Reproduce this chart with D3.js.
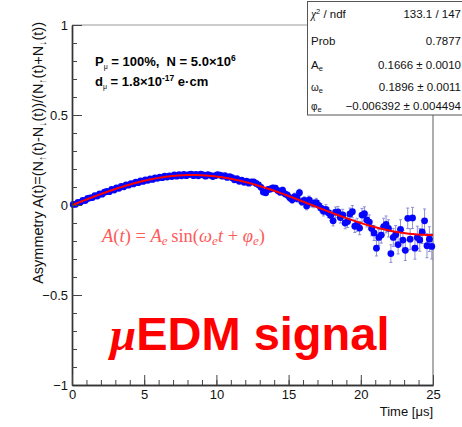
<!DOCTYPE html>
<html>
<head>
<meta charset="utf-8">
<script src="https://cdn.jsdelivr.net/npm/d3@7"></script>
<style>
  body { margin: 0; background: #fff; }
  svg { display: block; font-family: "Liberation Sans", Arial, sans-serif; }
</style>
</head>
<body>
<svg width="462" height="427"></svg>
<script>
// bin centres: 150 bins of 1/6 us from 0 to 25 us
var nBins = 150, binWidth = 25 / 150;

// asymmetry per bin
var asym = [
  0.003, 0.004, 0.014, 0.015, 0.026, 0.025, 0.036, 0.040, 0.041, 0.052,
  0.050, 0.061, 0.060, 0.071, 0.075, 0.074, 0.086, 0.083, 0.095, 0.093,
  0.104, 0.101, 0.112, 0.110, 0.119, 0.117, 0.127, 0.124, 0.134, 0.131,
  0.139, 0.137, 0.145, 0.142, 0.151, 0.148, 0.155, 0.152, 0.160, 0.155,
  0.162, 0.158, 0.167, 0.160, 0.168, 0.162, 0.170, 0.163, 0.169, 0.171,
  0.163, 0.170, 0.162, 0.171, 0.167, 0.160, 0.168, 0.165, 0.158, 0.163,
  0.168, 0.166, 0.160, 0.163, 0.153, 0.158, 0.152, 0.140, 0.146, 0.132,
  0.138, 0.126, 0.133, 0.121, 0.129, 0.128, 0.120, 0.112, 0.098, 0.072,
  0.068, 0.086, 0.089, 0.095, 0.093, 0.080, 0.071, 0.082, 0.062, 0.055,
  0.040, 0.029, 0.047, 0.036, 0.068, 0.018, 0.025, -0.005, 0.028, 0.012,
  0.008, 0.013, -0.002, -0.018, -0.035, -0.024, -0.043, -0.058, -0.088, -0.040,
  -0.038, -0.070, -0.055, -0.100, -0.092, -0.050, -0.037, -0.118, -0.110, -0.128,
  -0.056, -0.048, -0.083, -0.095, -0.130, -0.155, -0.240, -0.180, -0.167, -0.120,
  -0.108, -0.130, -0.270, -0.180, -0.165, -0.220, -0.135, -0.195, -0.252, -0.074,
  -0.190, -0.072, -0.240, -0.180, -0.194, -0.150, -0.088, -0.226, -0.190, -0.230
];

// statistical error per bin
var asymErr = [
  0.003, 0.003, 0.003, 0.003, 0.003, 0.003, 0.003, 0.003, 0.003, 0.003,
  0.003, 0.003, 0.003, 0.004, 0.004, 0.004, 0.004, 0.004, 0.004, 0.004,
  0.004, 0.004, 0.004, 0.004, 0.004, 0.004, 0.004, 0.004, 0.004, 0.004,
  0.005, 0.005, 0.005, 0.005, 0.005, 0.005, 0.005, 0.005, 0.005, 0.005,
  0.005, 0.005, 0.005, 0.006, 0.006, 0.006, 0.006, 0.006, 0.006, 0.006,
  0.006, 0.007, 0.007, 0.007, 0.007, 0.007, 0.007, 0.008, 0.008, 0.008,
  0.008, 0.008, 0.009, 0.009, 0.009, 0.009, 0.010, 0.010, 0.010, 0.010,
  0.011, 0.011, 0.011, 0.012, 0.012, 0.012, 0.013, 0.013, 0.013, 0.014,
  0.014, 0.014, 0.015, 0.015, 0.016, 0.016, 0.016, 0.017, 0.017, 0.018,
  0.018, 0.019, 0.019, 0.020, 0.020, 0.021, 0.021, 0.022, 0.022, 0.023,
  0.023, 0.024, 0.025, 0.025, 0.026, 0.026, 0.027, 0.028, 0.028, 0.029,
  0.030, 0.030, 0.031, 0.032, 0.033, 0.033, 0.034, 0.035, 0.036, 0.037,
  0.037, 0.038, 0.039, 0.040, 0.041, 0.042, 0.043, 0.044, 0.045, 0.046,
  0.047, 0.048, 0.049, 0.050, 0.051, 0.052, 0.053, 0.055, 0.056, 0.057,
  0.058, 0.059, 0.061, 0.062, 0.063, 0.064, 0.066, 0.067, 0.069, 0.070
];

// fit result shown in the stats box
var fitA = 0.1666, fitW = 0.1896, fitPhi = -0.006392;
var statLabels = ["χ2 / ndf", "Prob", "Ae", "ωe", "φe"];
var statValues = ["133.1 / 147", "0.7877", "0.1666 ± 0.0010", "0.1896 ± 0.0011", "−0.006392 ± 0.004494"];

var xTicks = [0, 5, 10, 15, 20, 25];
var yTicks = [-1, -0.5, 0, 0.5, 1];

var svg = d3.select("svg");

var x = d3.scaleLinear().domain([0, 25]).range([72, 433]);
var y = d3.scaleLinear().domain([-1, 1]).range([385, 25]);

var points = asym.map(function(v, i) {
  return {t: (i + 0.5) * binWidth, a: v, e: asymErr[i]};
});

// frame (top and right sides, lighter)
svg.append("path")
    .attr("d", "M" + x(0) + "," + y(1) + "H307")
    .attr("stroke", "#999").attr("stroke-width", 1.2).attr("fill", "none");
svg.append("path")
    .attr("d", "M" + x(25) + ",115V" + y(-1))
    .attr("stroke", "#777").attr("stroke-width", 1.2).attr("fill", "none");

// error bars
var eb = svg.append("g").attr("stroke", "#8585d0").attr("stroke-width", 0.9);
eb.selectAll("line.bar").data(points).enter().append("line")
    .attr("x1", function(d) { return x(d.t); })
    .attr("x2", function(d) { return x(d.t); })
    .attr("y1", function(d) { return y(d.a - d.e); })
    .attr("y2", function(d) { return y(d.a + d.e); });
eb.selectAll("line.cap").data(points.concat(points)).enter().append("line")
    .attr("x1", function(d) { return x(d.t) - 1.5; })
    .attr("x2", function(d) { return x(d.t) + 1.5; })
    .attr("y1", function(d, i) { return y(i < nBins ? d.a - d.e : d.a + d.e); })
    .attr("y2", function(d, i) { return y(i < nBins ? d.a - d.e : d.a + d.e); });

// markers
svg.append("g").selectAll("circle").data(points).enter().append("circle")
    .attr("cx", function(d) { return x(d.t); })
    .attr("cy", function(d) { return y(d.a); })
    .attr("r", 3.4)
    .attr("fill", "#0505ff");

// fitted function
var fitLine = d3.line()
    .x(function(t) { return x(t); })
    .y(function(t) { return y(fitA * Math.sin(fitW * t + fitPhi)); });
svg.append("path")
    .datum(d3.range(0, 25.001, 0.1))
    .attr("d", fitLine)
    .attr("fill", "none")
    .attr("stroke", "#f00")
    .attr("stroke-width", 2);

// axes
svg.append("g").attr("transform", "translate(" + x(0) + ",0)")
    .call(d3.axisLeft(y).tickValues(yTicks).tickSize(-10).tickSizeOuter(0).tickPadding(4)
      .tickFormat(d3.format("")));
svg.append("g").attr("transform", "translate(" + x(0) + ",0)")
    .call(d3.axisLeft(y).tickValues(d3.range(-10, 11).map(function(k) { return k / 10; }))
      .tickSize(-5).tickSizeOuter(0).tickFormat(""));
svg.append("g").attr("transform", "translate(0," + y(-1) + ")")
    .call(d3.axisBottom(x).tickValues(xTicks).tickSize(-10).tickSizeOuter(0).tickPadding(5));
svg.append("g").attr("transform", "translate(0," + y(-1) + ")")
    .call(d3.axisBottom(x).tickValues(d3.range(0, 26)).tickSize(-5).tickSizeOuter(0).tickFormat(""));

svg.selectAll(".domain").attr("stroke", "#333").attr("stroke-width", 1.4);
svg.selectAll(".tick line").attr("stroke", "#444");
svg.selectAll(".tick text").attr("font-size", 13).attr("fill", "#111")
    .attr("font-family", "Liberation Sans, Arial, sans-serif");

// axis titles
svg.append("text")
    .attr("x", 433).attr("y", 416)
    .attr("text-anchor", "end").attr("font-size", 13).attr("fill", "#111")
    .text("Time [μs]");

var yt = svg.append("text")
    .attr("transform", "translate(43,22) rotate(-90)")
    .attr("text-anchor", "end").attr("font-size", 14.5).attr("fill", "#111");
var ytParts = [["Asymmetry A(t)=(N", 0], ["↑", 1], ["(t)-N", 0], ["↓", 1], ["(t))/(N", 0], ["↑", 1], ["(t)+N", 0], ["↓", 1], ["(t))", 0]];
ytParts.forEach(function(p, i) {
  var s = yt.append("tspan").text(p[0]).attr("font-size", p[1] ? 10.5 : 14.5);
  if (p[1]) s.attr("dy", 3);
  else if (i > 0) s.attr("dy", -3);
});

// simulation info
var info = svg.append("g").attr("font-weight", "bold").attr("font-size", 13).attr("fill", "#000");
var l1 = info.append("text").attr("x", 95).attr("y", 66);
l1.append("tspan").text("P");
l1.append("tspan").text("μ").attr("font-size", 7).attr("dy", 3).attr("font-weight", "normal");
l1.append("tspan").text(" = 100%,\u00a0\u00a0N = 5.0×10").attr("dy", -3);
l1.append("tspan").text("6").attr("font-size", 8.5).attr("dy", -5);
var l2 = info.append("text").attr("x", 95).attr("y", 86);
l2.append("tspan").text("d");
l2.append("tspan").text("μ").attr("font-size", 7).attr("dy", 3).attr("font-weight", "normal");
l2.append("tspan").text(" = 1.8×10").attr("dy", -3);
l2.append("tspan").text("-17").attr("font-size", 8.5).attr("dy", -5);
l2.append("tspan").text(" e·cm").attr("dy", 5);

// fit formula
var ff = svg.append("text").attr("x", 102).attr("y", 242)
    .attr("font-family", "Liberation Serif, Times New Roman, serif")
    .attr("font-size", 18.5).attr("fill", "#ff5a5a");
ff.append("tspan").text("A").attr("font-style", "italic");
ff.append("tspan").text("(");
ff.append("tspan").text("t").attr("font-style", "italic");
ff.append("tspan").text(")\u00a0=\u00a0");
ff.append("tspan").text("A").attr("font-style", "italic");
ff.append("tspan").text("e").attr("font-style", "italic").attr("font-size", 13).attr("dy", 3);
ff.append("tspan").text("\u2009sin(").attr("dy", -3);
ff.append("tspan").text("ω").attr("font-style", "italic");
ff.append("tspan").text("e").attr("font-style", "italic").attr("font-size", 13).attr("dy", 3);
ff.append("tspan").text("t").attr("font-style", "italic").attr("dy", -3);
ff.append("tspan").text("\u00a0+\u00a0");
ff.append("tspan").text("φ").attr("font-style", "italic");
ff.append("tspan").text("e").attr("font-style", "italic").attr("font-size", 13).attr("dy", 3);
ff.append("tspan").text(")").attr("dy", -3);

// big label
var big = svg.append("text").attr("x", 110).attr("y", 350)
    .attr("font-size", 47).attr("font-weight", "bold").attr("fill", "#f00");
big.append("tspan").text("μ").attr("font-family", "Liberation Serif, Times New Roman, serif")
    .attr("font-style", "italic");
big.append("tspan").text("EDM signal");

// stats box
var box = svg.append("g");
box.append("rect").attr("x", 307.5).attr("y", 1.5).attr("width", 170).attr("height", 113.5)
    .attr("fill", "#fff").attr("stroke", "#555").attr("stroke-width", 1);
var rowY = [18, 45, 68.5, 90.5, 109.5];
statLabels.forEach(function(lbl, i) {
  var t = box.append("text").attr("x", 311).attr("y", rowY[i]).attr("font-size", 11.5).attr("fill", "#111");
  if (i === 0) {
    t.append("tspan").text("χ").attr("font-family", "Liberation Serif, serif").attr("font-style", "italic");
    t.append("tspan").text("2").attr("font-size", 7.5).attr("dy", -4);
    t.append("tspan").text(" / ndf").attr("dy", 4);
  } else if (i === 1) {
    t.text(lbl);
  } else {
    t.append("tspan").text(lbl.charAt(0)).attr("font-size", i === 2 ? 11.5 : 10);
    t.append("tspan").text("e").attr("font-size", 7.5).attr("dy", 2);
  }
  box.append("text").attr("x", 461).attr("y", rowY[i]).attr("text-anchor", "end")
    .attr("font-size", 11.5).attr("fill", "#111").text(statValues[i]);
});
</script>
</body>
</html>
